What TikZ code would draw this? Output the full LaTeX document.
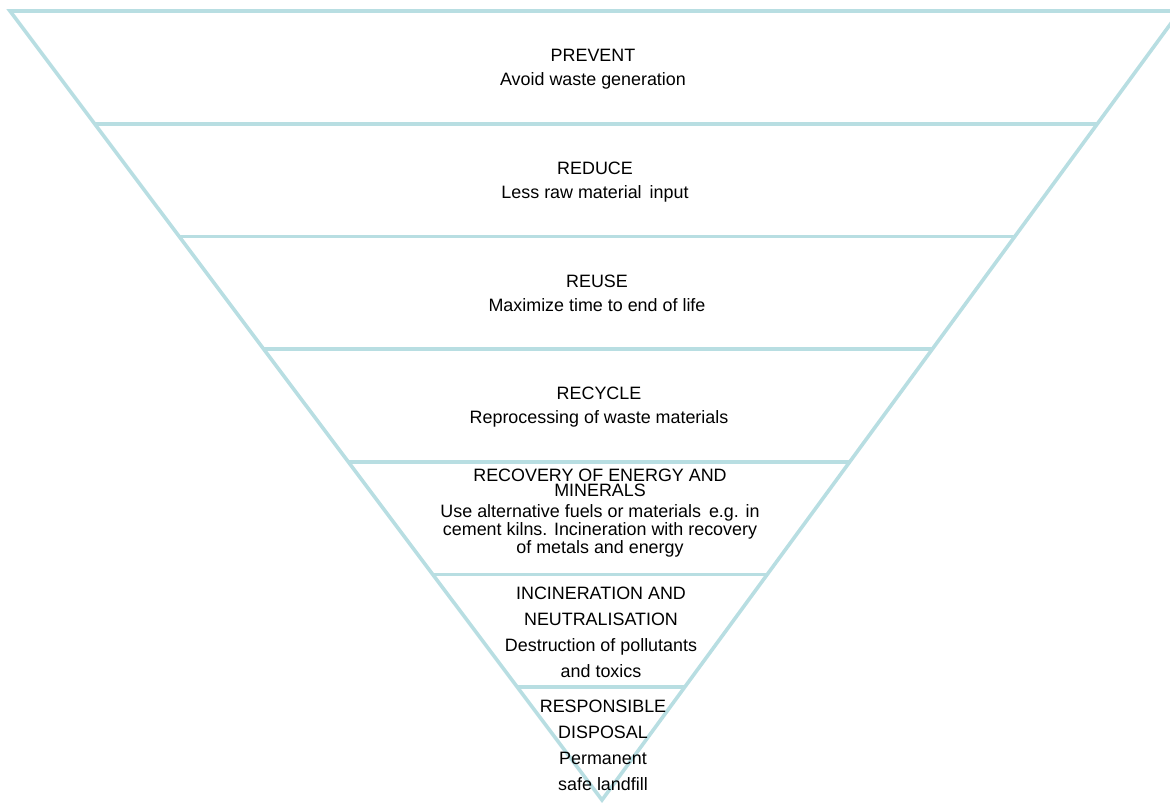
\documentclass[tikz,border=0pt]{standalone}
\usepackage{fontspec}
\setmainfont{Liberation Sans}
\usetikzlibrary{calc}
\definecolor{bandcol}{RGB}{184,222,226}

\begin{document}
\begin{tikzpicture}[x=1pt,y=-1pt,
        bandline/.style={draw=bandcol,line width=3.6pt},
        bandtext/.style={anchor=base,align=center,inner sep=0pt,font=\fontsize{17.9}{24}\selectfont}]
            \useasboundingbox (0,0) rectangle (1170,803);
            \clip (0,0) rectangle (1170,803);

            \coordinate (tl) at (10,11);
            \coordinate (tr) at (1180,11);
            \coordinate (apex) at (602,800);

            \coordinate (l1) at ($(tl)!1/7!(apex)$);
            \coordinate (r1) at ($(tr)!1/7!(apex)$);
            \coordinate (l2) at ($(tl)!2/7!(apex)$);
            \coordinate (r2) at ($(tr)!2/7!(apex)$);
            \coordinate (l3) at ($(tl)!3/7!(apex)$);
            \coordinate (r3) at ($(tr)!3/7!(apex)$);
            \coordinate (l4) at ($(tl)!4/7!(apex)$);
            \coordinate (r4) at ($(tr)!4/7!(apex)$);
            \coordinate (l5) at ($(tl)!5/7!(apex)$);
            \coordinate (r5) at ($(tr)!5/7!(apex)$);
            \coordinate (l6) at ($(tl)!6/7!(apex)$);
            \coordinate (r6) at ($(tr)!6/7!(apex)$);

            \draw[bandline] (tr) -- (tl) -- (apex) -- (tr);
            \draw[bandline] (l1) -- (r1);
            \draw[bandline] (l2) -- (r2);
            \draw[bandline] (l3) -- (r3);
            \draw[bandline] (l4) -- (r4);
            \draw[bandline] (l5) -- (r5);
            \draw[bandline] (l6) -- (r6);

            \node[bandtext] (prevent) at (593,85) {PREVENT\\Avoid waste generation};
            \node[bandtext] (reduce) at (595,198) {REDUCE\\Less raw material\ \,input};
            \node[bandtext] (reuse) at (597,311) {REUSE\\Maximize time to end of life};
            \node[bandtext] (recycle) at (599,423) {RECYCLE\\Reprocessing of waste materials};
            \node[bandtext,font=\fontsize{17.9}{15}\selectfont] (recovery) at (600,553)
                {RECOVERY OF ENERGY AND\\MINERALS\\[6pt]Use alternative fuels or materials\ \,e.g. in\\cement kilns. Incineration with recovery\\of metals and energy};
            \node[bandtext,font=\fontsize{17.9}{26}\selectfont] (incineration) at (601,677)
                {INCINERATION AND\\NEUTRALISATION\\Destruction of pollutants\\and toxics};
            \node[bandtext,font=\fontsize{17.9}{26}\selectfont] (disposal) at (603,790)
                {RESPONSIBLE\\DISPOSAL\\Permanent\\safe landfill};
        \end{tikzpicture}
\end{document}
